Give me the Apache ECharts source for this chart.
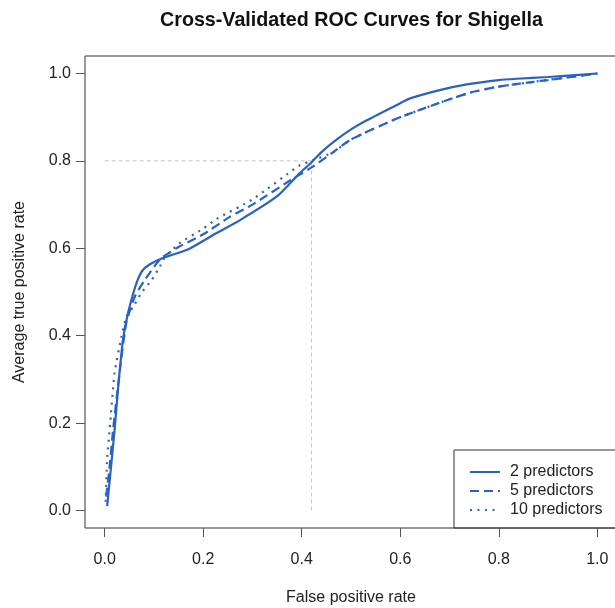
<!DOCTYPE html>
<html>
<head>
<meta charset="utf-8">
<script src="https://cdn.jsdelivr.net/npm/echarts@6/dist/echarts.min.js"></script>
<style>html,body{margin:0;padding:0;background:#fff}#c{width:615px;height:608px}</style>
</head>
<body>
<div id="c"></div>
<script>
// ---- data ----
const seriesNames = ['2 predictors', '5 predictors', '10 predictors'];
const fpr2 = [0.005, 0.012, 0.02, 0.028, 0.037, 0.047, 0.058, 0.066, 0.076, 0.091, 0.118, 0.17, 0.227, 0.274, 0.349, 0.396, 0.42, 0.44, 0.464, 0.5, 0.532, 0.6, 0.62, 0.68, 0.735, 0.8, 0.837, 0.9, 1.0];
const tpr2 = [0.01, 0.09, 0.184, 0.29, 0.39, 0.45, 0.497, 0.525, 0.548, 0.563, 0.578, 0.598, 0.635, 0.664, 0.718, 0.772, 0.797, 0.82, 0.843, 0.872, 0.893, 0.932, 0.943, 0.962, 0.975, 0.985, 0.988, 0.992, 1.0];
const fpr5 = [0.003, 0.01, 0.017, 0.03, 0.044, 0.061, 0.081, 0.105, 0.115, 0.15, 0.2, 0.254, 0.3, 0.383, 0.42, 0.464, 0.5, 0.6, 0.735, 0.8, 0.871, 0.9, 1.0];
const tpr5 = [0.032, 0.1, 0.184, 0.314, 0.43, 0.489, 0.527, 0.565, 0.578, 0.603, 0.632, 0.672, 0.70, 0.76, 0.785, 0.82, 0.849, 0.90, 0.954, 0.97, 0.981, 0.985, 1.0];
const fpr10 = [0.002, 0.005, 0.01, 0.02, 0.034, 0.044, 0.058, 0.074, 0.095, 0.112, 0.118, 0.15, 0.2, 0.227, 0.3, 0.396, 0.42, 0.464, 0.5, 0.6, 0.735, 0.8, 0.871, 1.0];
const tpr10 = [0.02, 0.12, 0.184, 0.314, 0.398, 0.443, 0.466, 0.497, 0.527, 0.558, 0.573, 0.61, 0.645, 0.667, 0.712, 0.79, 0.80, 0.82, 0.849, 0.90, 0.954, 0.97, 0.981, 1.0];
const refFpr = 0.42;
const refTpr = 0.8;
const tickValues = [0, 0.2, 0.4, 0.6, 0.8, 1.0];

// ---- chart ----
const FONT = '"Liberation Sans", Arial, Helvetica, sans-serif';
const BLUE = '#2A62C2';
const zip = (xs, ys) => xs.map((x, i) => [x, ys[i]]);
const chart = echarts.init(document.getElementById('c'), null, {renderer: 'canvas'});

const axisCommon = {
  type: 'value',
  min: -0.04,
  max: 1.04,
  splitLine: {show: false},
  axisLine: {show: false, onZero: false},
  axisTick: {show: true, customValues: tickValues, length: 9, lineStyle: {color: '#555', width: 1}},
  axisLabel: {customValues: tickValues, formatter: v => v.toFixed(1), fontSize: 16, color: '#222', fontFamily: FONT},
  nameLocation: 'middle',
  nameTextStyle: {fontSize: 16, color: '#222', fontFamily: FONT}
};

chart.setOption({
  animation: false,
  backgroundColor: '#fff',
  title: {
    text: 'Cross-Validated ROC Curves for Shigella',
    left: 155, top: 6,
    textStyle: {fontSize: 19.7, fontWeight: 'bold', color: '#111', fontFamily: FONT}
  },
  grid: {left: 85, top: 56, width: 532, height: 472, show: true, borderColor: '#333', borderWidth: 1,
         backgroundColor: 'transparent', containLabel: false, outerBoundsMode: 'none'},
  xAxis: Object.assign({}, axisCommon, {
    name: 'False positive rate', nameGap: 62,
    axisLabel: Object.assign({}, axisCommon.axisLabel, {margin: 24})
  }),
  yAxis: Object.assign({}, axisCommon, {
    name: 'Average true positive rate', nameGap: 57,
    axisLabel: Object.assign({}, axisCommon.axisLabel, {margin: 14})
  }),
  legend: {
    orient: 'vertical', left: 454, top: 450,
    data: seriesNames,
    borderColor: '#333', borderWidth: 1, borderRadius: 0,
    padding: [14, 40, 10, 15],
    itemWidth: 30, itemHeight: 14, itemGap: 3,
    itemStyle: {opacity: 0},
    textStyle: {fontSize: 16, color: '#222', fontFamily: FONT, padding: [0, 0, 0, 5]}
  },
  series: [
    {name: 'refH', type: 'line', data: [[0, refTpr], [refFpr, refTpr]], symbol: 'none', silent: true,
     lineStyle: {color: '#c4c4c4', width: 1, type: [4, 3]}},
    {name: 'refV', type: 'line', data: [[refFpr, 0], [refFpr, refTpr]], symbol: 'none', silent: true,
     lineStyle: {color: '#c4c4c4', width: 1, type: [4, 3]}},
    {name: seriesNames[0], type: 'line', data: zip(fpr2, tpr2), symbol: 'none', smooth: 0.2,
     lineStyle: {color: BLUE, width: 2.2, type: 'solid'}, itemStyle: {color: BLUE}},
    {name: seriesNames[1], type: 'line', data: zip(fpr5, tpr5), symbol: 'none', smooth: 0.2,
     lineStyle: {color: BLUE, width: 2.2, type: [9, 5]}, itemStyle: {color: BLUE}},
    {name: seriesNames[2], type: 'line', data: zip(fpr10, tpr10), symbol: 'none', smooth: 0.2,
     lineStyle: {color: BLUE, width: 2.2, type: [2, 5.5]}, itemStyle: {color: BLUE}}
  ]
});
</script>
</body>
</html>
